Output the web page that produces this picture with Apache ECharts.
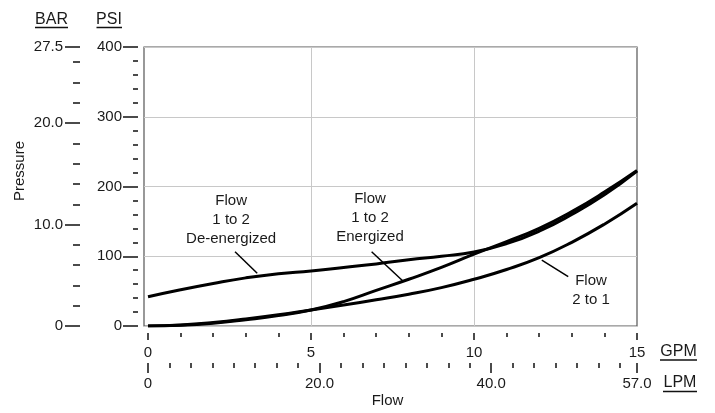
<!DOCTYPE html>
<html>
<head>
<meta charset="utf-8">
<script src="https://cdn.jsdelivr.net/npm/echarts@6/dist/echarts.min.js"></script>
<style>
html,body{margin:0;padding:0;background:#fff;}
#chart{width:715px;height:413px;}
</style>
</head>
<body>
<div id="chart"></div>
<script>
// ---- Data ----
var flowGPM = [0,1,2,3,4,5,6,7,8,9,10,11,12,13,14,15];
var deEnergized = [42,52,61,69,75,79,84,89,95,100,106,118,136,160,188,222];
var energized   = [0,1,4,9,15,23,35,51,67,84,103,121,140,164,192,223];
var flow2to1    = [0,1.5,5,10,16,23,30,37.5,45.5,55,67,81,98,120,146,176];

var gpmMajorTicks = [0,5,10,15];
var lpmMajorTicks = [0,20,40,57];
var lpmMinorTicks = [2.5,5,7.5,10,12.5,15,17.5,22.5,25,27.5,30,32.5,35,37.5,42.5,45,47.5,50,52.5,55];
var barMajorTicks = [0,10,20,27.5];
var barMinorTicks = [2,4,6,8,12,14,16,18,22,24,26];
var psiMax = 400, barMax = 27.5, gpmMax = 15, lpmMax = 57;

// annotations in data units (GPM, PSI)
var annotations = [
  {text:'Flow\n1 to 2\nDe-energized', at:[2.55,152], line:[[2.67,106.5],[3.35,75.6]]},
  {text:'Flow\n1 to 2\nEnergized', at:[6.81,155], line:[[6.86,106.5],[7.81,64.9]]},
  {text:'Flow\n2 to 1', at:[13.59,51.6], line:[[12.08,94.6],[12.89,70.7]]}
];

function pairs(xs, ys){ return xs.map(function(x,i){ return [x, ys[i]]; }); }

var FONT = '"Liberation Sans", Arial, sans-serif';
var TXT = '#1a1a1a';
var tickStyle = {color:'#111', width:1.5};
var noLine = {show:false, onZero:false};

var chart = echarts.init(document.getElementById('chart'), null, {renderer:'canvas'});

var curveStyle = {color:'#000', width:3};
function curve(name, vals){
  return {
    name:name, type:'line', xAxisIndex:0, yAxisIndex:0,
    data:pairs(flowGPM, vals), showSymbol:false, symbol:'none',
    smooth:0.5, lineStyle:curveStyle, z:5, silent:true
  };
}

var option = {
  animation:false,
  backgroundColor:'#fff',
  grid:[
    {left:148, right:78, top:47, bottom:87, show:false},
    {left:144, right:78, top:47, bottom:87, show:true, borderColor:'#555', borderWidth:1.2, backgroundColor:'transparent', z:0}
  ],
  xAxis:[
    { // GPM
      type:'value', gridIndex:0, min:0, max:gpmMax, interval:5, position:'bottom', offset:7,
      axisLine:noLine,
      axisTick:{show:true, length:7, lineStyle:tickStyle},
      minorTick:{show:true, splitNumber:5, length:4, lineStyle:tickStyle},
      axisLabel:{show:true, margin:12, fontSize:15, fontFamily:FONT, color:TXT},
      splitLine:{show:false}
    },
    { // LPM major
      type:'value', gridIndex:0, min:0, max:lpmMax, position:'bottom', offset:37,
      axisLine:noLine,
      axisTick:{show:true, length:10, lineStyle:tickStyle, customValues:lpmMajorTicks},
      axisLabel:{show:true, margin:13, fontSize:15, fontFamily:FONT, color:TXT, customValues:lpmMajorTicks,
        formatter:function(v){ return v===0 ? '0' : Number(v).toFixed(1); }},
      splitLine:{show:false}
    },
    { // LPM minor
      type:'value', gridIndex:0, min:0, max:lpmMax, position:'bottom', offset:37,
      axisLine:noLine,
      axisTick:{show:true, length:5, lineStyle:tickStyle, customValues:lpmMinorTicks},
      axisLabel:{show:false},
      splitLine:{show:false}
    },
    { // frame grid
      type:'value', gridIndex:1, min:0, max:1, show:false
    }
  ],
  yAxis:[
    { // PSI
      type:'value', gridIndex:0, min:0, max:psiMax, interval:100, position:'left', offset:10,
      axisLine:noLine,
      axisTick:{show:true, length:15, lineStyle:tickStyle},
      minorTick:{show:true, splitNumber:5, length:5, lineStyle:tickStyle},
      axisLabel:{show:true, margin:16, fontSize:15, fontFamily:FONT, color:TXT},
      splitLine:{show:false}
    },
    { // BAR major
      type:'value', gridIndex:0, min:0, max:barMax, position:'left', offset:68,
      axisLine:noLine,
      axisTick:{show:true, length:15, lineStyle:tickStyle, customValues:barMajorTicks},
      axisLabel:{show:true, margin:17, fontSize:15, fontFamily:FONT, color:TXT, customValues:barMajorTicks,
        formatter:function(v){ return v===0 ? '0' : Number(v).toFixed(1); }},
      splitLine:{show:false}
    },
    { // BAR minor
      type:'value', gridIndex:0, min:0, max:barMax, position:'left', offset:68,
      axisLine:noLine,
      axisTick:{show:true, length:7, lineStyle:tickStyle, customValues:barMinorTicks},
      axisLabel:{show:false},
      splitLine:{show:false}
    },
    { // frame grid horizontal grid lines
      type:'value', gridIndex:1, min:0, max:psiMax, interval:100,
      axisLine:noLine, axisTick:{show:false}, axisLabel:{show:false},
      splitLine:{show:true, lineStyle:{color:'#c8c8c8', width:1}}
    }
  ],
  series:[
    {
      name:'vgrid', type:'line', xAxisIndex:0, yAxisIndex:0, data:[[0,0]],
      showSymbol:false, symbol:'none', lineStyle:{opacity:0}, z:1, silent:true,
      markLine:{
        silent:true, symbol:'none', animation:false,
        label:{show:false},
        lineStyle:{color:'#c8c8c8', width:1, type:'solid'},
        data:[{xAxis:5},{xAxis:10}]
      }
    },
    curve('Flow 1 to 2 De-energized', deEnergized),
    curve('Flow 1 to 2 Energized', energized),
    curve('Flow 2 to 1', flow2to1)
  ]
};
chart.setOption(option);

// ---- Annotations & titles ----
function px(pt){ return chart.convertToPixel({xAxisIndex:0, yAxisIndex:0}, pt); }
var g = [];
annotations.forEach(function(a){
  var c = px(a.at);
  g.push({type:'text', x:c[0], y:c[1], z:10, silent:true,
    style:{text:a.text, font:'15px '+FONT, fill:TXT, align:'center', verticalAlign:'middle', lineHeight:19}});
  var p1 = px(a.line[0]), p2 = px(a.line[1]);
  g.push({type:'line', z:10, silent:true, shape:{x1:p1[0], y1:p1[1], x2:p2[0], y2:p2[1]},
    style:{stroke:'#000', lineWidth:1.5}});
});
function titled(text, cx, cy, x1, x2, uy){
  g.push({type:'text', x:cx, y:cy, z:10, silent:true,
    style:{text:text, font:'16px '+FONT, fill:TXT, align:'center', verticalAlign:'middle'}});
  g.push({type:'line', z:10, silent:true, shape:{x1:x1, y1:uy, x2:x2, y2:uy}, style:{stroke:'#111', lineWidth:1.5}});
}
titled('BAR', 51.5, 20, 35, 68, 27.5);
titled('PSI', 109, 20, 96.5, 122, 27.5);
titled('GPM', 678.5, 352, 660, 697, 360);
titled('LPM', 680, 383, 663, 697, 391.5);
g.push({type:'text', x:387.5, y:400.5, z:10, silent:true,
  style:{text:'Flow', font:'15px '+FONT, fill:TXT, align:'center', verticalAlign:'middle'}});
g.push({type:'text', x:20, y:171, rotation:Math.PI/2, z:10, silent:true,
  style:{text:'Pressure', font:'15px '+FONT, fill:TXT, align:'center', verticalAlign:'middle'}});
chart.setOption({graphic:{elements:g}});
</script>
</body>
</html>
